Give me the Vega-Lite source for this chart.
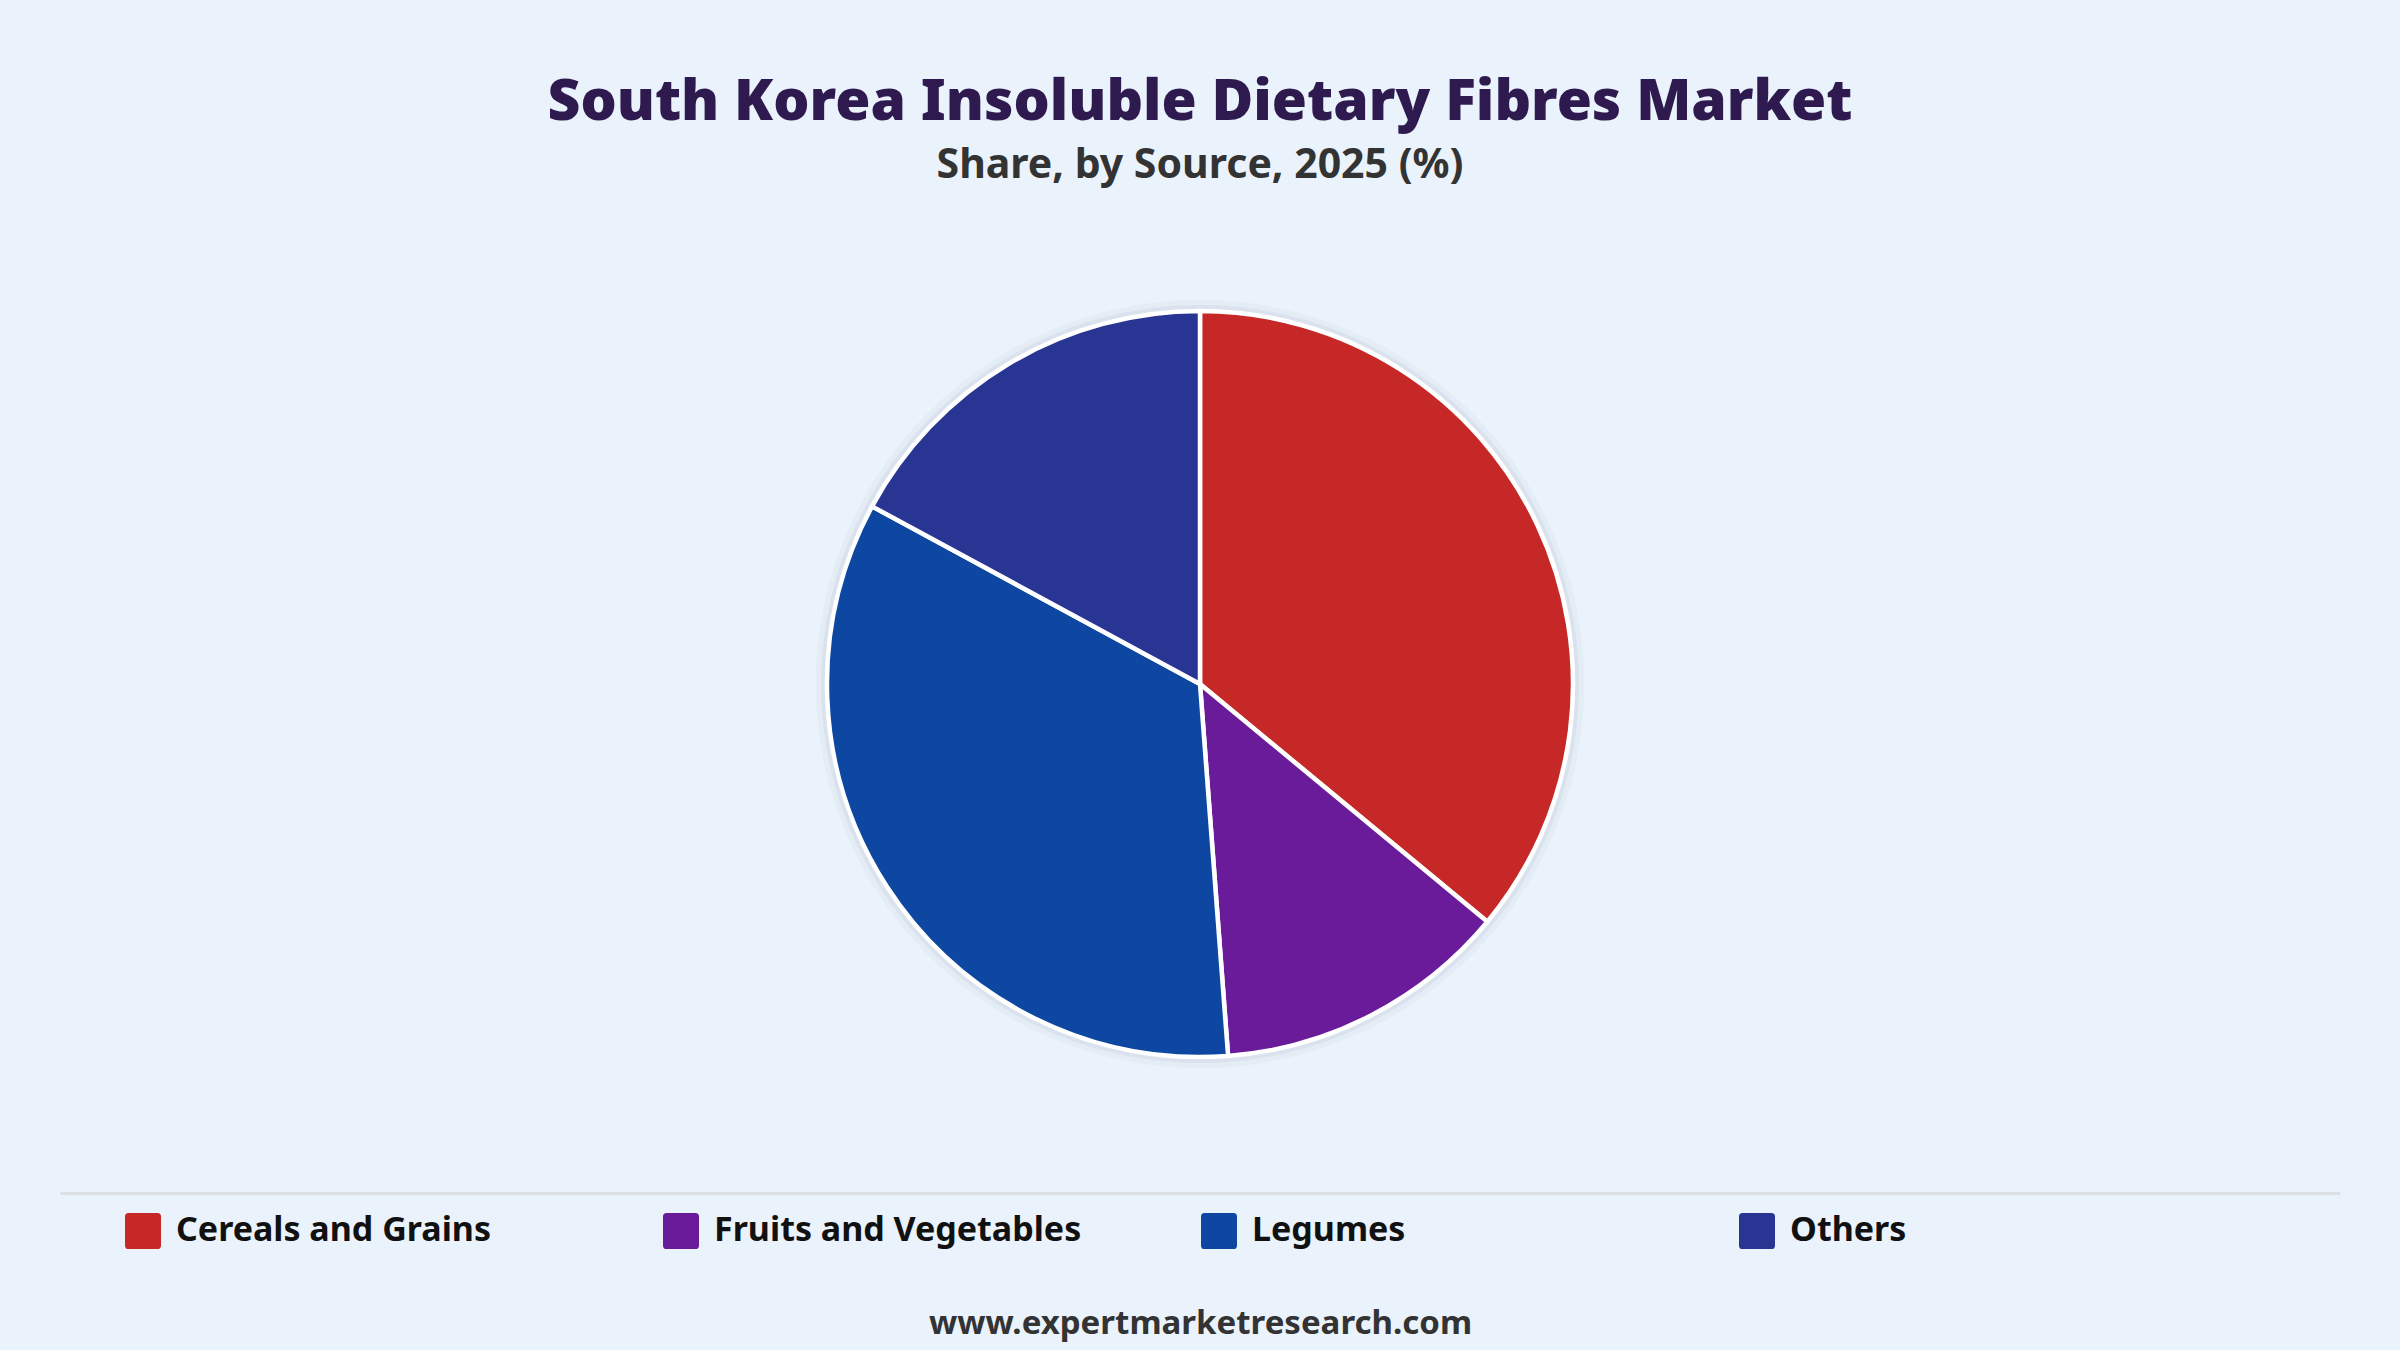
{
  "$schema": "https://vega.github.io/schema/vega-lite/v6.json",
  "description": "South Korea insoluble dietary fibres market share by source, 2025.",
  "autosize": {"type": "none"},
  "width": 2280,
  "height": 1018,
  "padding": {"left": 60, "right": 60, "top": 175, "bottom": 157},
  "background": "#eaf2fb",
  "title": {
    "text": "South Korea Insoluble Dietary Fibres Market",
    "subtitle": "Share, by Source, 2025 (%)",
    "anchor": "middle",
    "frame": "group",
    "offset": -12,
    "font": "Noto Sans",
    "fontSize": 57,
    "fontWeight": 900,
    "color": "#2e1a4f",
    "subtitleFont": "Noto Sans",
    "subtitleFontSize": 41,
    "subtitleFontWeight": "bold",
    "subtitleColor": "#333333",
    "subtitlePadding": 14
  },
  "data": {
    "values": [
      {"source": "Cereals and Grains", "share": 36.0},
      {"source": "Fruits and Vegetables", "share": 12.8},
      {"source": "Legumes", "share": 34.1},
      {"source": "Others", "share": 17.1}
    ]
  },
  "config": {"view": {"stroke": null}},
  "layer": [
    {
      "mark": {"type": "arc", "outerRadius": 384, "fill": "#8d9cae", "opacity": 0.06, "stroke": null},
      "encoding": {
        "theta": {"field": "share", "type": "quantitative", "stack": true}
      }
    },
    {
      "mark": {"type": "arc", "outerRadius": 379, "fill": "#8d9cae", "opacity": 0.12, "stroke": null},
      "encoding": {
        "theta": {"field": "share", "type": "quantitative", "stack": true}
      }
    },
    {
      "mark": {"type": "arc", "outerRadius": 373, "stroke": "#ffffff", "strokeWidth": 4.5},
      "encoding": {
        "theta": {"field": "share", "type": "quantitative", "stack": true},
        "color": {
          "field": "source",
          "type": "nominal",
          "scale": {
            "domain": ["Cereals and Grains", "Fruits and Vegetables", "Legumes", "Others"],
            "range": ["#c62828", "#6a1b9a", "#0d47a1", "#283593"]
          },
          "legend": {
            "orient": "none",
            "legendX": 65,
            "legendY": 1038,
            "direction": "horizontal",
            "columns": 4,
            "title": null,
            "padding": 0,
            "gridAlign": "all",
            "columnPadding": 119,
            "symbolType": "M -0.8,-1 H 0.8 Q 1,-1 1,-0.8 V 0.8 Q 1,1 0.8,1 H -0.8 Q -1,1 -1,0.8 V -0.8 Q -1,-1 -0.8,-1 Z",
            "symbolSize": 1296,
            "symbolStrokeWidth": 0,
            "symbolOpacity": 1,
            "labelFont": "Noto Sans",
            "labelFontSize": 34,
            "labelFontWeight": "bold",
            "labelColor": "#111111",
            "labelOffset": 15,
            "labelLimit": 600
          }
        }
      }
    },
    {
      "mark": {"type": "rule", "strokeOpacity": 0},
      "encoding": {
        "x": {
          "datum": 0,
          "type": "quantitative",
          "axis": {
            "orient": "bottom",
            "domain": true,
            "domainColor": "#dcdfe4",
            "domainWidth": 3,
            "ticks": false,
            "labels": false,
            "grid": false,
            "title": "www.expertmarketresearch.com",
            "titleFont": "Noto Sans",
            "titleFontSize": 33,
            "titleFontWeight": "bold",
            "titleColor": "#333333",
            "titleBaseline": "alphabetic",
            "titleY": 140
          }
        }
      }
    }
  ]
}
